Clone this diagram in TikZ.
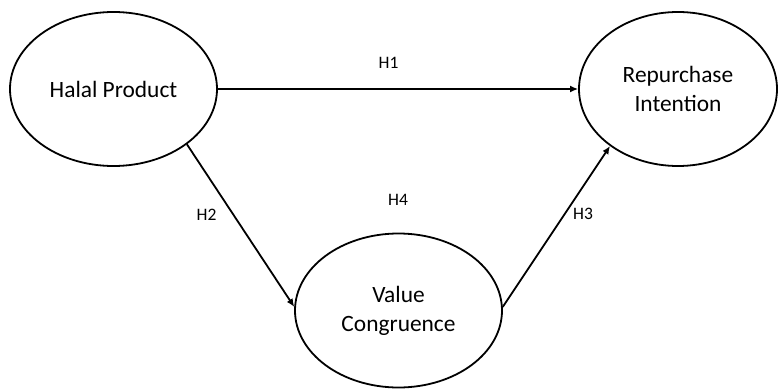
\documentclass[tikz,border=0pt]{standalone}
\usepackage{fontspec}
\setmainfont{Carlito}
\usetikzlibrary{arrows.meta,shapes.geometric,positioning}

\begin{document}
\begin{tikzpicture}[x=1pt, y=1pt,
  construct/.style={ellipse, draw=black, line width=1.8pt, inner sep=0pt,
    minimum width=207pt, minimum height=154pt, align=center,
    font=\fontsize{23.4}{29}\selectfont},
  path/.style={line width=1.8pt, -{Latex[length=8pt, width=7pt]}},
  hyplabel/.style={font=\fontsize{17.5}{20}\selectfont}]

\useasboundingbox (0,0) rectangle (778,389);

% constructs
\node[construct] (HP) at (113.5,300) {Halal Product};
\node[construct, minimum width=198pt] (RI) at (678,300) {Repurchase\\Intention};
\node[construct] (VC) at (398.5,78.5) {Value\\Congruence};

% paths
\draw[path] (HP.east) -- (RI.west);
\draw[path] (HP.-37) -- (VC.178);
\draw[path] (VC.2) -- (RI.-140);

% hypotheses
\node[hyplabel] (H1) at (388.5,326.5) {H1};
\node[hyplabel] (H2) at (206.5,174.5) {H2};
\node[hyplabel] (H3) at (583,175.5) {H3};
\node[hyplabel] (H4) at (398,189) {H4};

\end{tikzpicture}
\end{document}
